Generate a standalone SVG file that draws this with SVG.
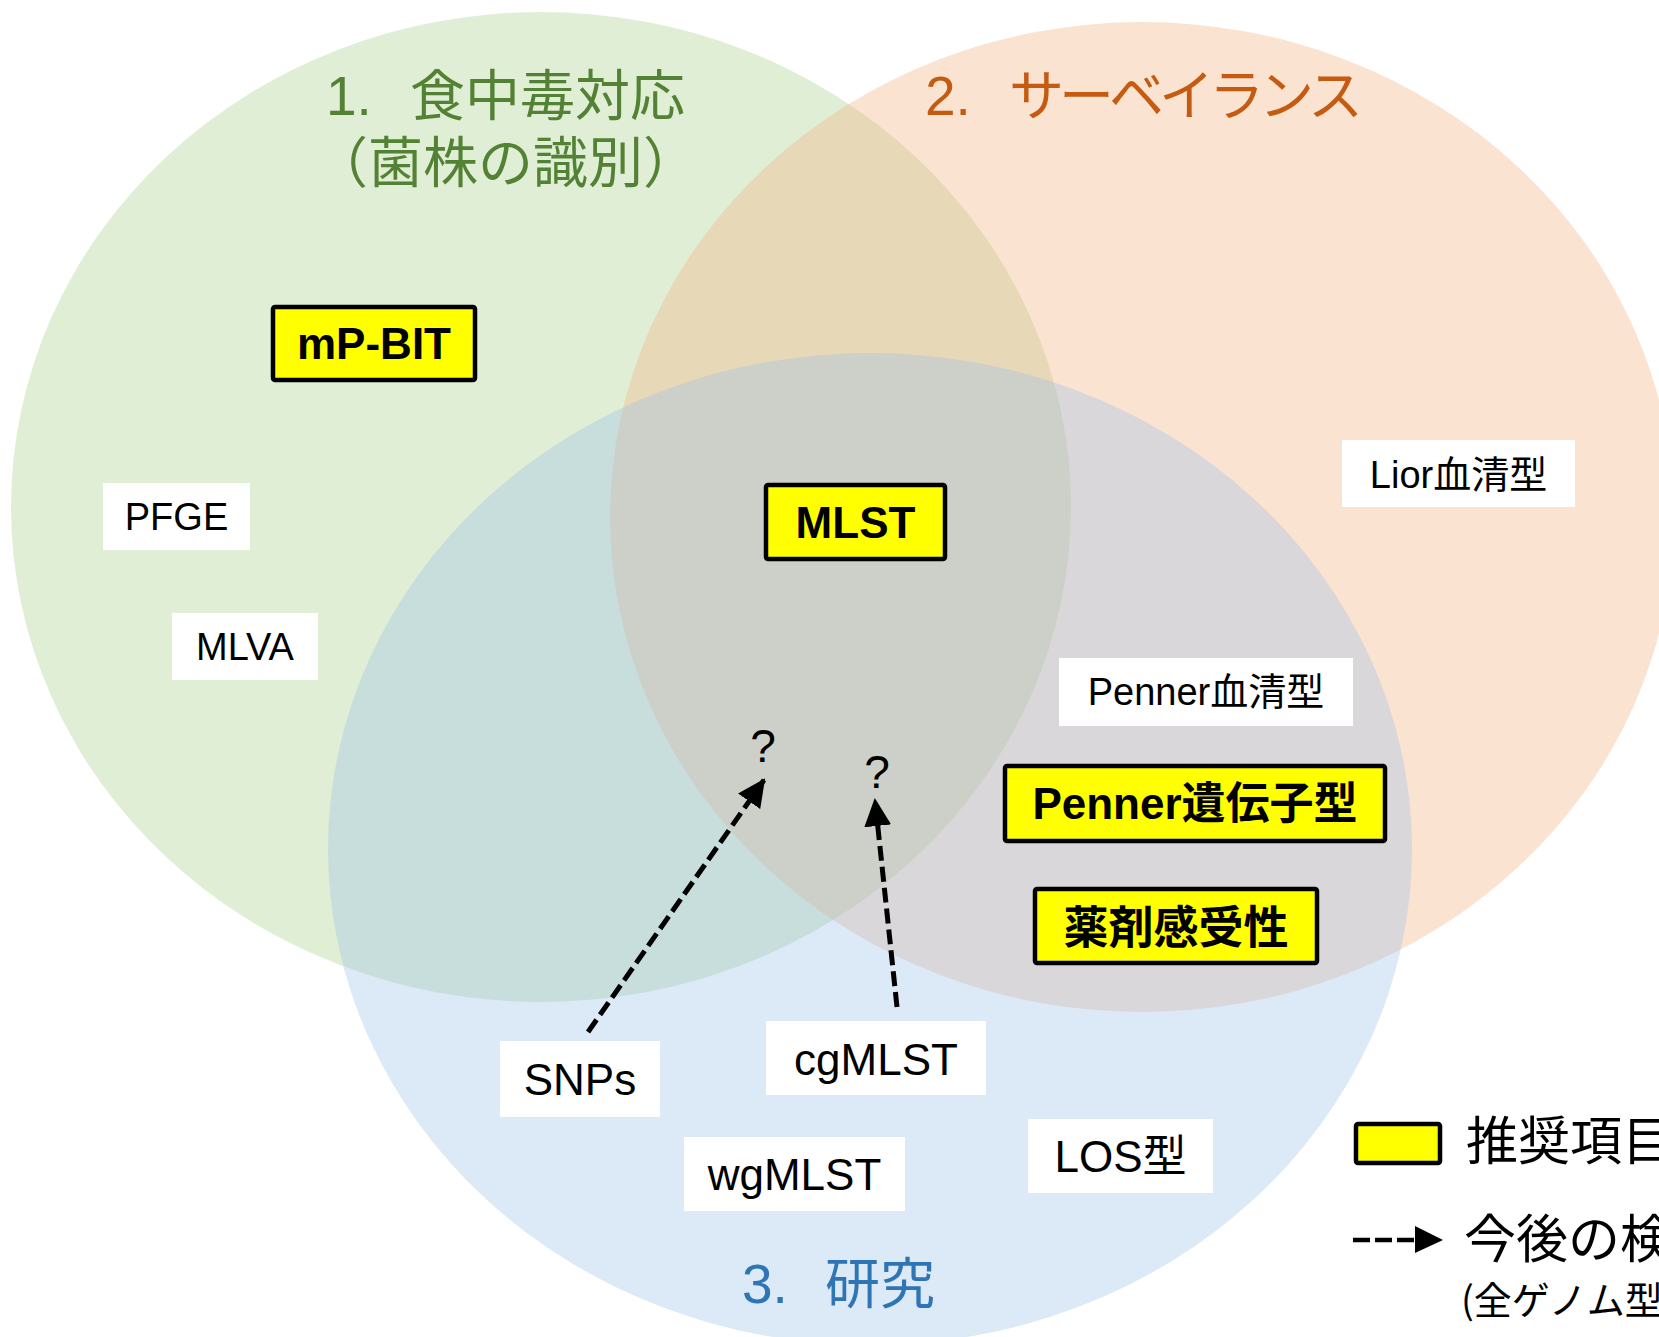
<svg xmlns="http://www.w3.org/2000/svg" width="1659" height="1337" viewBox="0 0 1659 1337">
<defs>
<style>
.t{font-family:"Liberation Sans","Noto Sans CJK JP",sans-serif;fill:#000;text-anchor:middle}
.n{font-size:38px}
.m{font-size:44px}
.b{font-size:44px;font-weight:bold}
.w{fill:#fff}
.y{fill:#ffff00;stroke:#000;stroke-width:4.5}
.ti{font-family:"Liberation Sans","Noto Sans CJK JP",sans-serif;font-size:55px}
.jp{font-family:"Noto Sans CJK JP",sans-serif}
.arr{fill:none;stroke:#000;stroke-width:5;stroke-dasharray:15 6}
</style>
<marker id="ah" markerUnits="userSpaceOnUse" markerWidth="28" markerHeight="27" refX="26" refY="13.5" orient="auto">
<path d="M0,0 L28,13.5 L0,27 z" fill="#000"/>
</marker>
</defs>
<rect width="1659" height="1337" fill="#fff"/>
<g id="circles">
<ellipse id="c1" cx="541" cy="507" rx="530" ry="495" fill="#A9D18E" fill-opacity="0.36"/>
<ellipse id="c2" cx="1142" cy="517" rx="532" ry="495" fill="#F4B183" fill-opacity="0.36"/>
<ellipse id="c3" cx="870" cy="849" rx="542" ry="496" fill="#9DC3E6" fill-opacity="0.36"/>
</g>
<g id="titles">
<text class="ti" fill="#548235" x="326" y="115">1.</text>
<text class="ti jp" fill="#548235" x="410" y="115">食中毒対応</text>
<text class="ti jp" fill="#548235" x="313" y="182">（菌株の識別）</text>
<text class="ti" fill="#C55A11" x="925" y="115">2.</text>
<text class="ti jp" fill="#C55A11" x="1009" y="115" letter-spacing="-5">サーベイランス</text>
<text class="ti" fill="#2E75B6" x="742" y="1303">3.</text>
<text class="ti jp" fill="#2E75B6" x="825" y="1303">研究</text>
</g>
<g id="mpbit"><rect class="y" x="273" y="307" width="202" height="73" rx="2"/><text class="t b" x="374" y="359">mP-BIT</text></g>
<g id="pfge"><rect class="w" x="103" y="483" width="147" height="67"/><text class="t n" x="176.5" y="530">PFGE</text></g>
<g id="mlva"><rect class="w" x="172" y="613" width="146" height="67"/><text class="t n" x="245" y="660">MLVA</text></g>
<g id="mlst"><rect class="y" x="766" y="485" width="179" height="74" rx="2"/><text class="t b" x="855.5" y="538">MLST</text></g>
<g id="lior"><rect class="w" x="1342" y="440" width="233" height="67"/><text class="t n" x="1458.5" y="488">Lior血清型</text></g>
<g id="penner-sero"><rect class="w" x="1059" y="658" width="294" height="68"/><text class="t n" x="1206" y="705">Penner血清型</text></g>
<g id="penner-geno"><rect class="y" x="1005" y="766" width="380" height="75" rx="2"/><text class="t b" x="1195" y="819">Penner遺伝子型</text></g>
<g id="amr"><rect class="y" x="1035" y="889" width="282" height="74" rx="2"/><text class="t b" x="1176" y="944" style="font-size:45px">薬剤感受性</text></g>
<g id="q1"><text class="t" x="763" y="762" style="font-size:46px">?</text></g>
<g id="q2"><text class="t" x="877" y="788" style="font-size:46px">?</text></g>
<g id="snps"><rect class="w" x="500" y="1041" width="160" height="76"/><text class="t m" x="580" y="1095">SNPs</text></g>
<g id="cgmlst"><rect class="w" x="766" y="1021" width="220" height="74"/><text class="t m" x="876" y="1075">cgMLST</text></g>
<g id="wgmlst"><rect class="w" x="684" y="1137" width="221" height="74"/><text class="t m" x="794.5" y="1190">wgMLST</text></g>
<g id="los"><rect class="w" x="1028" y="1119" width="185" height="74"/><text class="t m" x="1120.5" y="1172">LOS型</text></g>
<g id="connectors">
<line class="arr" x1="588" y1="1032" x2="764" y2="780" marker-end="url(#ah)"/>
<line class="arr" x1="897" y1="1007" x2="875" y2="800" marker-end="url(#ah)"/>
</g>
<g id="legend">
<rect class="y" x="1356" y="1124" width="84" height="39" rx="2"/>
<text class="jp" x="1466" y="1160" style="font-size:52px">推奨項目</text>
<line x1="1353" y1="1240" x2="1416" y2="1240" stroke="#000" stroke-width="4.7" stroke-dasharray="17 5"/>
<path d="M1415,1226 L1443,1240 L1415,1253 z" fill="#000"/>
<text class="jp" x="1464" y="1258" style="font-size:52px">今後の検討</text>
<text x="1461" y="1314" style="font-family:'Noto Sans CJK JP',sans-serif;font-size:38px">(全ゲノム型別)</text>
</g>
</svg>
